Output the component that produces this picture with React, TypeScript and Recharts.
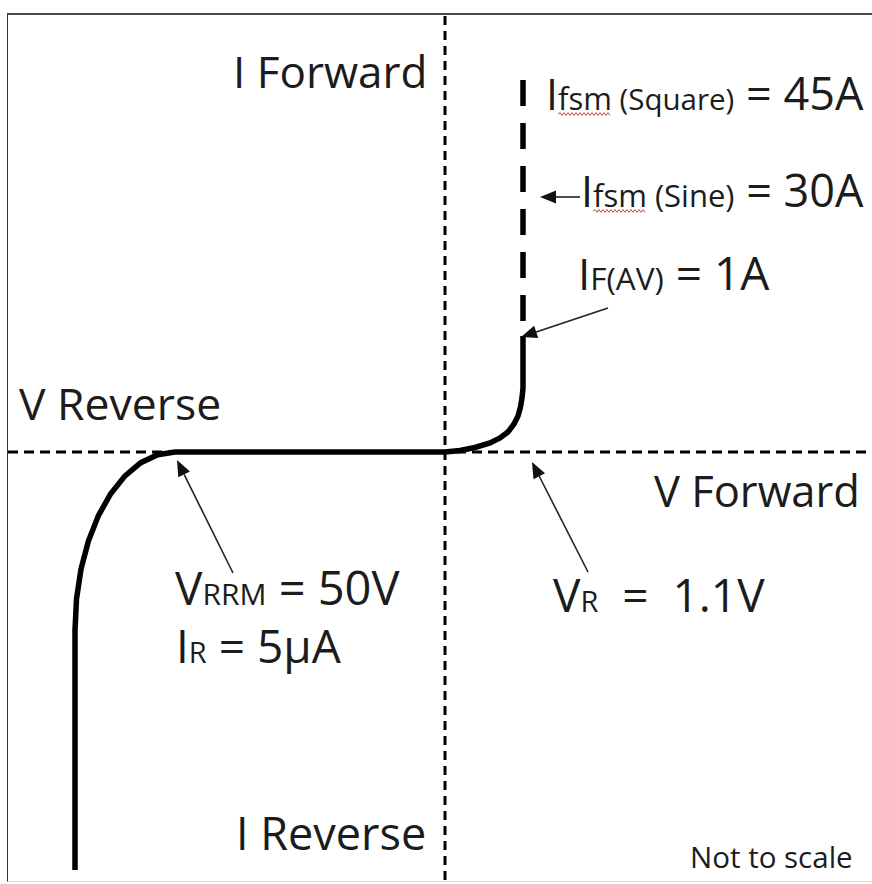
import React from "react";
import {
  LineChart,
  Line,
  XAxis,
  YAxis,
  ReferenceLine,
  ReferenceDot,
} from "recharts";

// abstract "not to scale" units, origin where the two axes cross
const reverseCurve = [
  { x: -37, y: -41.8 },
  { x: -37, y: -17.8 },
  { x: -36.85, y: -14.7 },
  { x: -36.4, y: -11.7 },
  { x: -35.66, y: -8.9 },
  { x: -34.66, y: -6.36 },
  { x: -33.43, y: -4.17 },
  { x: -32, y: -2.39 },
  { x: -30.42, y: -1.07 },
  { x: -28.74, y: -0.27 },
  { x: -27, y: 0 },
  { x: 0, y: 0 },
];

const forwardCurve = [
  { x: 0, y: 0 },
  { x: 1.5, y: 0.15 },
  { x: 3, y: 0.45 },
  { x: 4.5, y: 0.9 },
  { x: 5.5, y: 1.4 },
  { x: 6.3, y: 2.0 },
  { x: 6.9, y: 2.8 },
  { x: 7.3, y: 3.6 },
  { x: 7.55, y: 4.5 },
  { x: 7.7, y: 5.4 },
  { x: 7.8, y: 6.4 },
  { x: 7.8, y: 11.6 },
];

const surgeLine = [
  { x: 7.8, y: 37.2 },
  { x: 7.8, y: 11.8 },
];

const arrows = [
  { from: { x: 13.5, y: 25.5 }, to: { x: 9.5, y: 25.5 } },
  { from: { x: 16.3, y: 14.4 }, to: { x: 7.6, y: 11.5 } },
  { from: { x: -21.2, y: -12.1 }, to: { x: -26.8, y: -0.8 } },
  { from: { x: 14.3, y: -12.0 }, to: { x: 8.7, y: -1.0 } },
];

const xDomain = [-43.7, 42.7];
const yDomain = [-42.8, 43.8];

const FONT = "'Open Sans', 'Noto Sans', sans-serif";
const INK = "#1c1c1c";

type Part = [string, number];

function Arrow(props: any) {
  const { x1, y1, x2, y2 } = props;
  const dx = x2 - x1;
  const dy = y2 - y1;
  const len = Math.hypot(dx, dy) || 1;
  const ux = dx / len;
  const uy = dy / len;
  const hl = 16;
  const hw = 6.5;
  const bx = x2 - ux * hl;
  const by = y2 - uy * hl;
  const px = -uy;
  const py = ux;
  return (
    <g>
      <line x1={x1} y1={y1} x2={bx} y2={by} stroke="#222" strokeWidth={1.6} />
      <polygon
        points={`${x2},${y2} ${bx + px * hw},${by + py * hw} ${bx - px * hw},${by - py * hw}`}
        fill="#111"
      />
    </g>
  );
}

function wavePath(x0: number, x1: number, y: number) {
  let d = `M${x0},${y}`;
  let up = true;
  for (let x = x0 + 2; x <= x1; x += 2) {
    d += ` L${x},${y + (up ? -1.4 : 1.4)}`;
    up = !up;
  }
  return d;
}

function TextMark(props: any) {
  const { cx, cy, parts, wave } = props;
  return (
    <g>
      <text
        x={cx}
        y={cy}
        fill={INK}
        fontFamily={FONT}
        style={{ whiteSpace: "pre" }}
      >
        {(parts as Part[]).map(([t, s], i) => (
          <tspan key={i} fontSize={s}>
            {t}
          </tspan>
        ))}
      </text>
      {wave && (
        <path
          d={wavePath(cx + wave[0], cx + wave[1], cy + 4)}
          stroke="#d0443a"
          strokeWidth={1}
          fill="none"
        />
      )}
    </g>
  );
}

export default function App() {
  const labels: { x: number; y: number; parts: Part[]; wave?: number[] }[] = [
    { x: -21.2, y: 36.4, parts: [["I Forward", 44]] },
    { x: -42.6, y: 3.2, parts: [["V Reverse", 44.5]] },
    { x: 20.9, y: -5.5, parts: [["V Forward", 43.5]] },
    { x: -20.9, y: -39.8, parts: [["I Reverse", 45]] },
    { x: 24.5, y: -41.6, parts: [["Not to scale", 29.5]] },
    {
      x: -27.0,
      y: -15.3,
      parts: [
        ["V", 46],
        ["RRM", 30],
        [" = 50V", 47],
      ],
    },
    {
      x: -26.9,
      y: -21.1,
      parts: [
        ["I", 46],
        ["R", 29],
        [" = 5μA", 46],
      ],
    },
    {
      x: 10.8,
      y: -16.0,
      parts: [
        ["V", 46],
        ["R", 29],
        ["  =  1.1V", 46],
      ],
    },
    {
      x: 10.1,
      y: 34.2,
      parts: [
        ["I", 43],
        ["fsm", 31],
        [" (Square)", 29.5],
        [" = 45A", 45],
      ],
      wave: [12, 64],
    },
    {
      x: 13.6,
      y: 24.5,
      parts: [
        ["I", 43],
        ["fsm", 31],
        [" (Sine)", 31],
        [" = 30A", 45],
      ],
      wave: [12, 64],
    },
    {
      x: 13.3,
      y: 16.2,
      parts: [
        ["I", 44],
        ["F(AV)", 31.5],
        [" = 1A", 46],
      ],
    },
  ];

  return (
    <div
      style={{
        position: "absolute",
        left: 0,
        top: 0,
        width: 872,
        height: 884,
        overflow: "hidden",
        background: "#fff",
      }}
    >
      <div
        style={{
          position: "absolute",
          left: 7,
          top: 13,
          width: 900,
          height: 866,
          borderTop: "2px solid #4a4a4a",
          borderLeft: "1px solid #333",
          borderBottom: "1px solid #ddd",
        }}
      />
      <div style={{ position: "absolute", left: 0, top: 0 }}>
        <LineChart
          width={872}
          height={884}
          margin={{ top: 14, right: 0, bottom: 4, left: 8 }}
        >
          <XAxis
            type="number"
            dataKey="x"
            domain={xDomain}
            allowDataOverflow
            hide
          />
          <YAxis
            type="number"
            dataKey="y"
            domain={yDomain}
            allowDataOverflow
            hide
          />
          <ReferenceLine
            x={0}
            stroke="#000"
            strokeWidth={3}
            strokeDasharray="9 6"
          />
          <ReferenceLine
            y={0}
            stroke="#000"
            strokeWidth={3}
            strokeDasharray="10 6"
          />
          <Line
            data={reverseCurve}
            dataKey="y"
            type="linear"
            stroke="#000"
            strokeWidth={5.5}
            dot={false}
            isAnimationActive={false}
          />
          <Line
            data={forwardCurve}
            dataKey="y"
            type="linear"
            stroke="#000"
            strokeWidth={5.5}
            dot={false}
            isAnimationActive={false}
          />
          <Line
            data={surgeLine}
            dataKey="y"
            type="linear"
            stroke="#000"
            strokeWidth={5.5}
            strokeDasharray="26 17"
            dot={false}
            isAnimationActive={false}
          />
          {arrows.map((a, i) => (
            <ReferenceLine
              key={`arrow-${i}`}
              segment={[a.from, a.to]}
              shape={(p: any) => <Arrow {...p} />}
            />
          ))}
          {labels.map((l, i) => (
            <ReferenceDot
              key={`label-${i}`}
              x={l.x}
              y={l.y}
              r={0}
              shape={(p: any) => (
                <TextMark cx={p.cx} cy={p.cy} parts={l.parts} wave={l.wave} />
              )}
            />
          ))}
        </LineChart>
      </div>
    </div>
  );
}
